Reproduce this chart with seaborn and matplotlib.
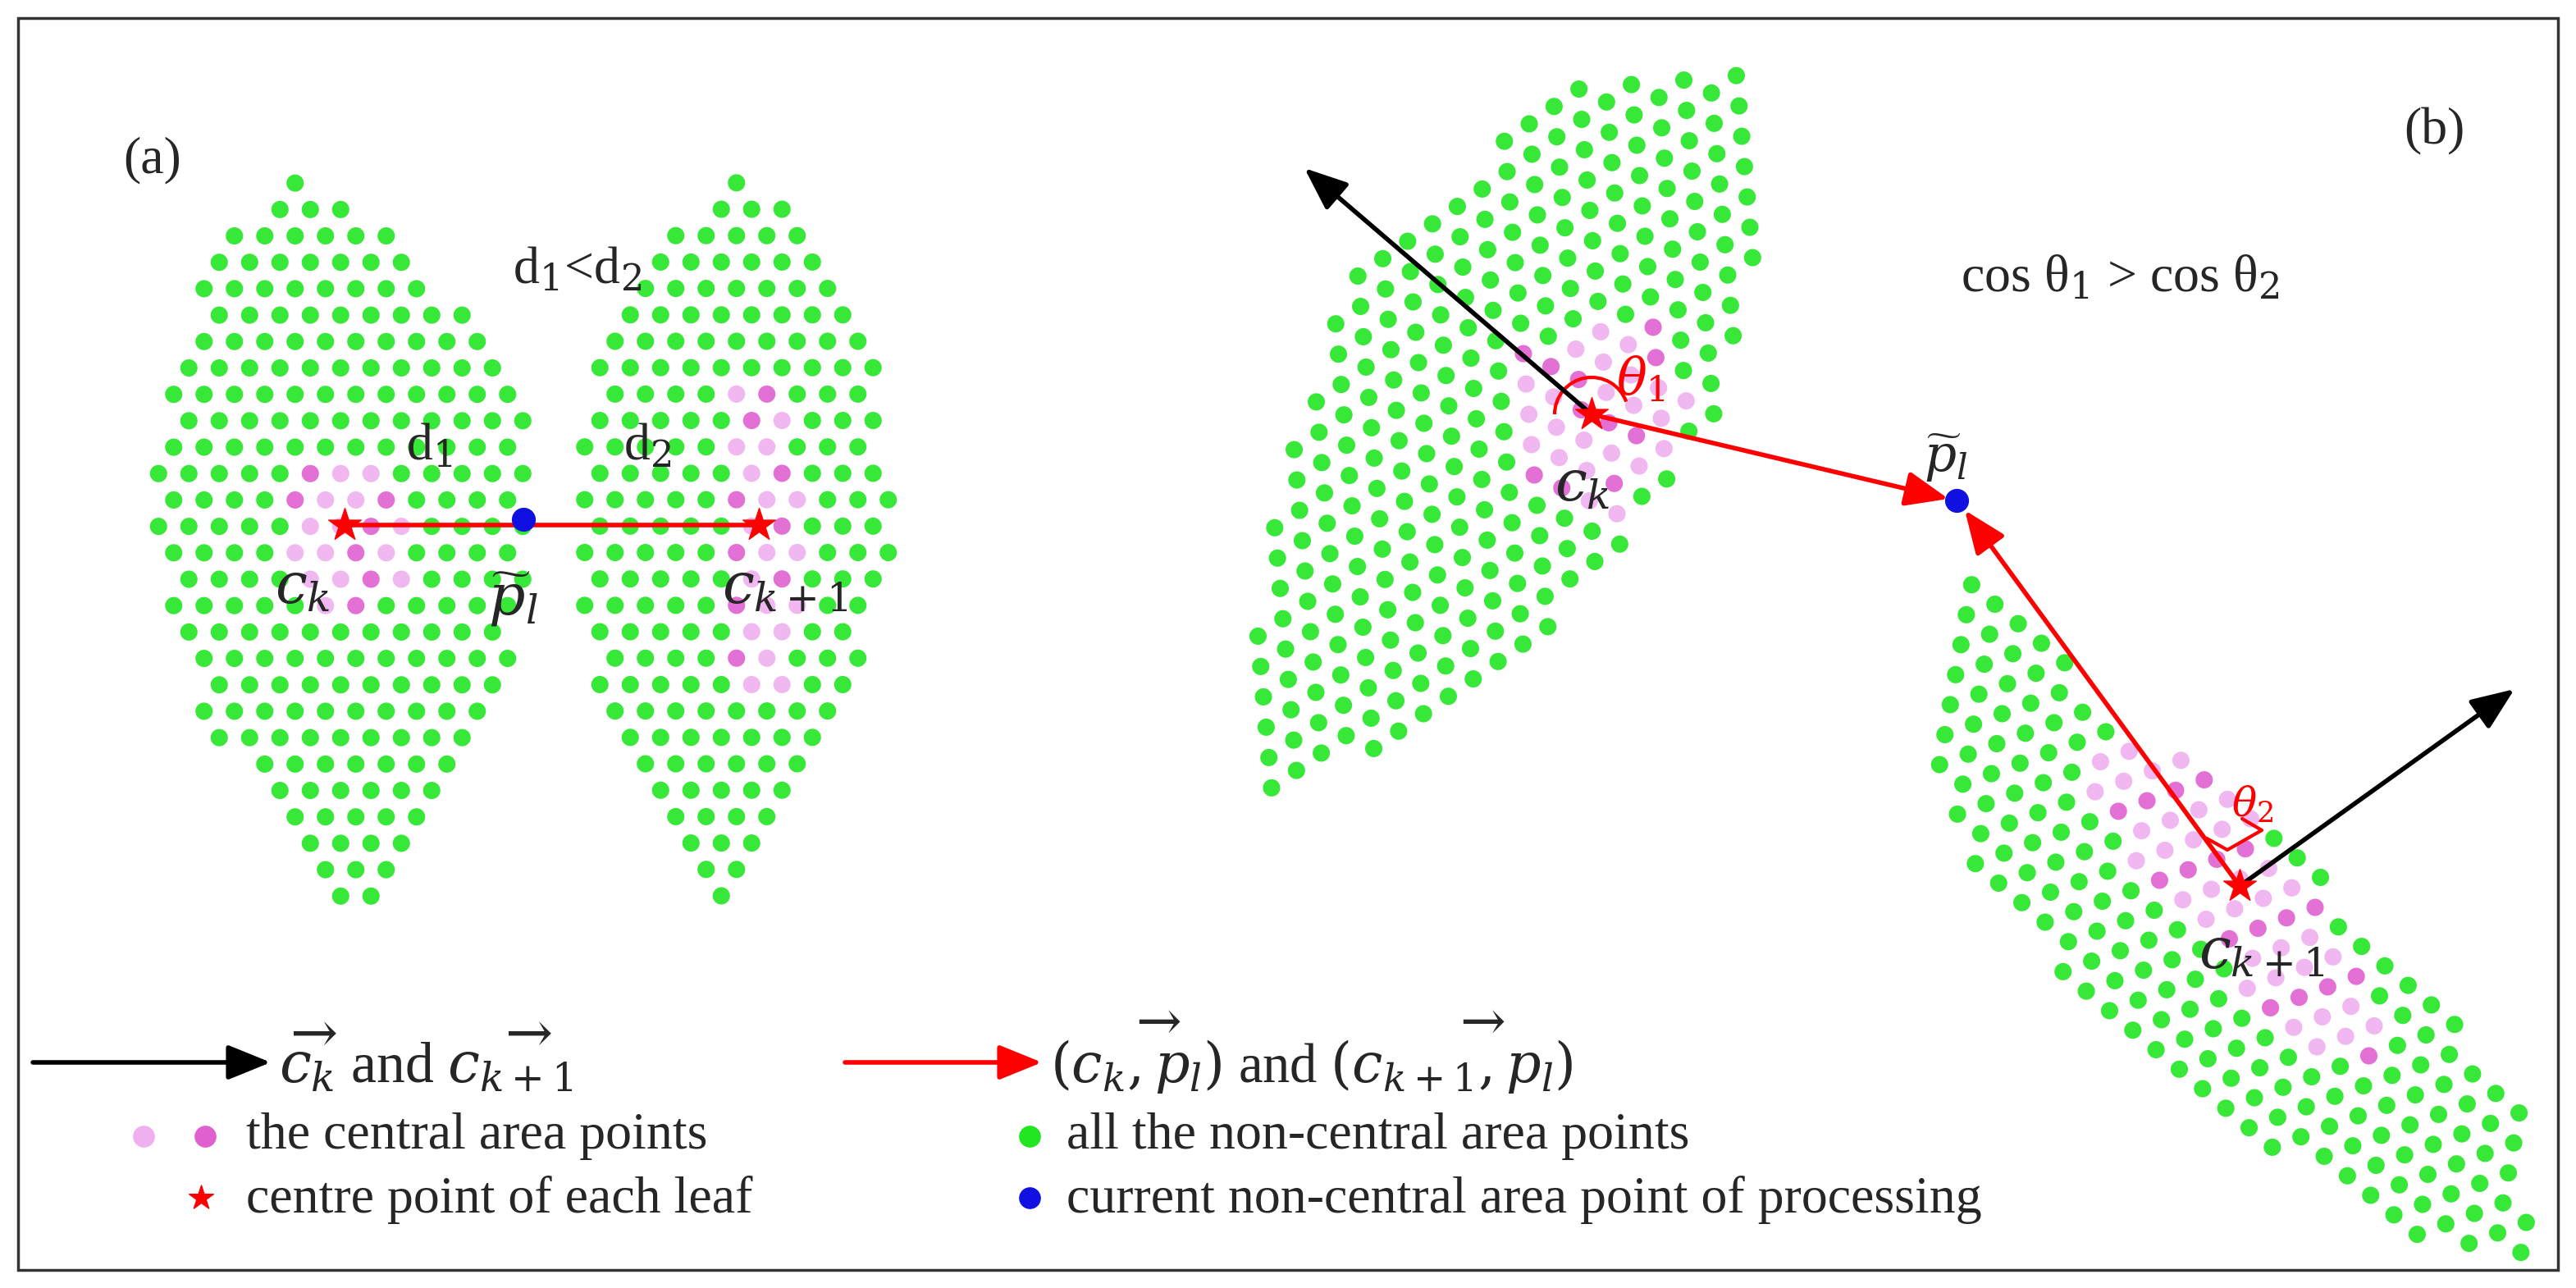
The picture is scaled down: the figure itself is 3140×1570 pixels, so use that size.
import numpy as np
import pandas as pd
import matplotlib
matplotlib.use("Agg")
import matplotlib.pyplot as plt
import seaborn as sns
from matplotlib.path import Path

sns.set_style("white")
plt.rcParams['font.family'] = ['Liberation Serif', 'DejaVu Serif']
plt.rcParams['mathtext.fontset'] = 'dejavuserif'

# leaf outlines (pixel coords)
leaf_a1 = [(370,200),(520,330),(640,480),(655,700),(600,900),(480,1070),(420,1140),(330,1000),(235,850),(185,650),(200,450),(270,300)]
leaf_a2 = [(900,210),(1000,290),(1070,430),(1090,650),(1045,850),(960,1000),(880,1100),(800,1000),(720,820),(700,620),(730,420),(800,290)]
leaf_b1 = [(1650,330),(1900,110),(2130,90),(2150,300),(2080,540),(1900,760),(1700,900),(1530,985),(1520,800),(1560,580)]
leaf_b2 = [(2395,700),(2470,740),(2560,860),(2740,980),(2920,1160),(3070,1340),(3085,1530),(2970,1525),(2780,1410),(2580,1260),(2420,1080),(2360,960),(2370,800)]
# central (pink) area outlines
pink_a1 = [(360,560),(480,560),(500,700),(440,760),(350,720)]
pink_a2 = [(890,470),(960,480),(990,700),(960,860),(900,860),(880,650)]
pink_b1 = [(1850,420),(2040,380),(2060,500),(1980,640),(1860,600)]
pink_b2 = [(2540,900),(2700,930),(2900,1200),(2900,1290),(2800,1280),(2560,1000)]
lattice_angle = [0, 0, -35, 40]
centres = [(420,640),(925,640),(1940,505),(2730,1080)]
blue_pts = [(638,633),(2385,610)]

def lattice(poly, ang, step=37):
    path = Path(poly)
    xs = [p[0] for p in poly]; ys = [p[1] for p in poly]
    cx, cy = np.mean(xs), np.mean(ys)
    pts = []
    r = 900
    a = np.deg2rad(ang)
    for i, v in enumerate(np.arange(-r, r, step*0.87)):
        off = (i % 2) * step / 2
        for u in np.arange(-r, r, step):
            uu = u + off
            x = cx + uu*np.cos(a) - v*np.sin(a)
            y = cy + uu*np.sin(a) + v*np.cos(a)
            if path.contains_point((x, y)):
                pts.append((x, y))
    return np.array(pts)

fig = plt.figure(figsize=(31.4, 15.7), dpi=100)
ax = fig.add_axes([0, 0, 1, 1])
ax.add_patch(plt.Rectangle((22, 22), 3096, 1526, fill=False, lw=2.5, color='#333'))

rows = []
for leaf, pk, ang in zip([leaf_a1, leaf_a2, leaf_b1, leaf_b2],
                         [pink_a1, pink_a2, pink_b1, pink_b2], lattice_angle):
    P = lattice(leaf, ang)
    pp = Path(pk)
    for k, (x, y) in enumerate(P):
        if pp.contains_point((x, y)):
            rows.append((x, y, 'pink1' if k % 3 else 'pink2'))
        else:
            rows.append((x, y, 'green'))
df = pd.DataFrame(rows, columns=['x', 'y', 'kind'])
pal = {'green': '#22e622', 'pink1': '#f0b0f0', 'pink2': '#e060d0'}
sns.scatterplot(data=df, x='x', y='y', hue='kind', palette=pal, s=230, edgecolor='none',
                alpha=0.9, legend=False, ax=ax)
ax.set_xlim(0, 3140); ax.set_ylim(1570, 0); ax.axis('off')

def arrow(p0, p1, c):
    ax.annotate('', xy=p1, xytext=p0,
                arrowprops=dict(arrowstyle='-|>,head_length=3.2,head_width=1.3', color=c, lw=4,
                                shrinkA=0, shrinkB=0))

ax.plot([centres[0][0], centres[1][0]], [centres[0][1], centres[1][1]], color='red', lw=4, zorder=3)
arrow(centres[2], (1590, 205), 'black')
arrow(centres[2], (2375, 608), 'red')
arrow(centres[3], (2395, 622), 'red')
arrow(centres[3], (3065, 840), 'black')
ax.plot([2690, 2715, 2757, 2733], [1022, 1036, 1012, 998], color='red', lw=3)
ax.add_patch(matplotlib.patches.Arc(centres[2], 90, 90, theta1=180, theta2=340, color='red', lw=3))

cx = [c[0] for c in centres]; cy = [c[1] for c in centres]
ax.scatter(cx, cy, marker='*', s=900, color='red', zorder=5)
ax.scatter([b[0] for b in blue_pts], [b[1] for b in blue_pts], s=400, color='#1010e0', zorder=5)

fs = 46
ax.text(150, 210, '(a)', fontsize=fs)
ax.text(2930, 175, '(b)', fontsize=fs)
ax.text(625, 345, r'd$_1$<d$_2$', fontsize=fs)
ax.text(495, 560, r'd$_1$', fontsize=fs)
ax.text(760, 560, r'd$_2$', fontsize=fs)
ax.text(335, 735, r'$c_k$', fontsize=50)
ax.text(595, 750, r'$\widetilde{p}_l$', fontsize=50)
ax.text(880, 735, r'$c_{k+1}$', fontsize=50)
ax.text(1895, 610, r'$c_k$', fontsize=50)
ax.text(2345, 575, r'$\widetilde{p}_l$', fontsize=44)
ax.text(2680, 1180, r'$c_{k+1}$', fontsize=50)
ax.text(1970, 480, r'$\theta_1$', fontsize=44, color='red')
ax.text(2720, 995, r'$\theta_2$', fontsize=36, color='red')
ax.text(2390, 355, r'cos θ$_1$ > cos θ$_2$', fontsize=fs)

# legend
arrow((40, 1295), (330, 1295), 'black')
ax.text(340, 1320, r'$\overrightarrow{c_k}$ and $\overrightarrow{c_{k+1}}$', fontsize=50)
arrow((1030, 1295), (1270, 1295), 'red')
ax.text(1280, 1320, r'$\overrightarrow{(c_k,p_l)}$ and $\overrightarrow{(c_{k+1},p_l)}$', fontsize=48)
ax.scatter([175], [1385], s=330, color=pal['pink1'])
ax.scatter([250], [1385], s=330, color=pal['pink2'])
ax.text(300, 1400, 'the central area points', fontsize=fs)
ax.scatter([245], [1460], marker='*', s=500, color='red')
ax.text(300, 1478, 'centre point of each leaf', fontsize=fs)
ax.scatter([1255], [1385], s=330, color=pal['green'])
ax.text(1300, 1400, 'all the non-central area points', fontsize=fs)
ax.scatter([1255], [1460], s=330, color='#1010e0')
ax.text(1300, 1478, 'current non-central area point of processing', fontsize=fs)

fig.savefig('out.png', dpi=100)
